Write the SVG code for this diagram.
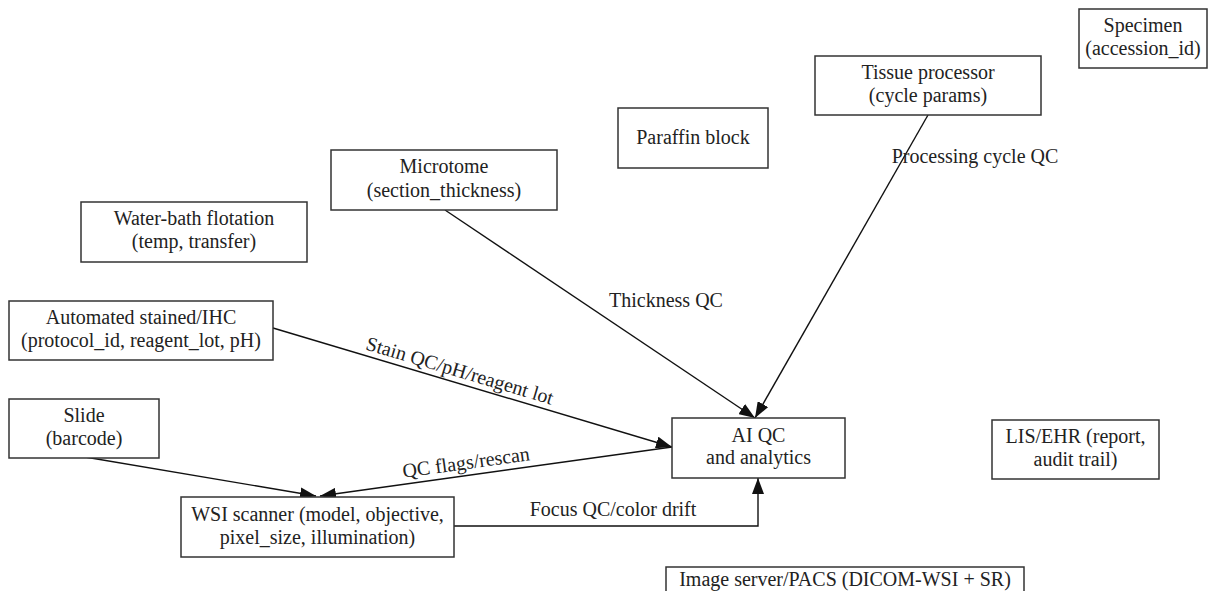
<svg xmlns="http://www.w3.org/2000/svg" width="1227" height="591" viewBox="0 0 1227 591">
<defs>
<style>
.box{fill:#fff;stroke:#333;stroke-width:1.5}
.t{font-family:"Liberation Serif","Times New Roman",serif;font-size:20px;fill:#222;text-anchor:middle}
.e{fill:none;stroke:#111;stroke-width:1.4}
</style>
<marker id="ah" viewBox="0 0 16 12" refX="16" refY="6" markerWidth="16" markerHeight="12" markerUnits="userSpaceOnUse" orient="auto">
<path d="M0,0 L16,6 L0,12 Z" fill="#111"/>
</marker>
</defs>
<rect width="1227" height="591" fill="#fff"/>
<g id="connectors">
<path class="e" d="M445,210 L755,418" marker-end="url(#ah)"/>
<path class="e" d="M928,115 L755,418" marker-end="url(#ah)"/>
<path class="e" d="M273,328 L672,447" marker-end="url(#ah)"/>
<path class="e" d="M85,457 L316,496" marker-end="url(#ah)"/>
<path class="e" d="M672,447 L320,496" marker-end="url(#ah)"/>
<path class="e" d="M454,526 L758,526 L758,478" marker-end="url(#ah)"/>
<text class="t" x="666" y="307">Thickness QC</text>
<text class="t" x="975" y="163">Processing cycle QC</text>
<text class="t" x="458" y="377" transform="rotate(16.6 458 377)">Stain QC/pH/reagent lot</text>
<text class="t" x="467" y="469" transform="rotate(-7.9 467 469)">QC flags/rescan</text>
<text class="t" x="613" y="516">Focus QC/color drift</text>
</g>
<g id="specimen"><rect class="box" x="1079" y="9" width="128" height="59"/><text class="t" x="1143" y="32">Specimen</text><text class="t" x="1143" y="55">(accession_id)</text></g>
<g id="tissue-processor"><rect class="box" x="815" y="56" width="226" height="59"/><text class="t" x="928" y="79">Tissue processor</text><text class="t" x="928" y="102">(cycle params)</text></g>
<g id="paraffin-block"><rect class="box" x="618" y="108" width="150" height="60"/><text class="t" x="693" y="144">Paraffin block</text></g>
<g id="microtome"><rect class="box" x="331" y="150" width="226" height="60"/><text class="t" x="444" y="173">Microtome</text><text class="t" x="444" y="197">(section_thickness)</text></g>
<g id="water-bath"><rect class="box" x="81" y="202" width="226" height="60"/><text class="t" x="194" y="225">Water-bath flotation</text><text class="t" x="194" y="248">(temp, transfer)</text></g>
<g id="stainer"><rect class="box" x="9" y="301" width="264" height="59"/><text class="t" x="141" y="324">Automated stained/IHC</text><text class="t" x="141" y="347">(protocol_id, reagent_lot, pH)</text></g>
<g id="slide"><rect class="box" x="9" y="399" width="150" height="59"/><text class="t" x="84" y="422">Slide</text><text class="t" x="84" y="445">(barcode)</text></g>
<g id="wsi-scanner"><rect class="box" x="181" y="497" width="273" height="60"/><text class="t" x="317.5" y="521">WSI scanner (model, objective,</text><text class="t" x="317.5" y="544">pixel_size, illumination)</text></g>
<g id="ai-qc"><rect class="box" x="672" y="418" width="173" height="60"/><text class="t" x="758.5" y="442">AI QC</text><text class="t" x="758.5" y="464">and analytics</text></g>
<g id="lis-ehr"><rect class="box" x="992" y="420" width="167" height="59"/><text class="t" x="1075.5" y="443">LIS/EHR (report,</text><text class="t" x="1075.5" y="466">audit trail)</text></g>
<g id="pacs"><rect class="box" x="666" y="567" width="358" height="40"/><text class="t" x="845" y="586">Image server/PACS (DICOM-WSI + SR)</text></g>
</svg>
